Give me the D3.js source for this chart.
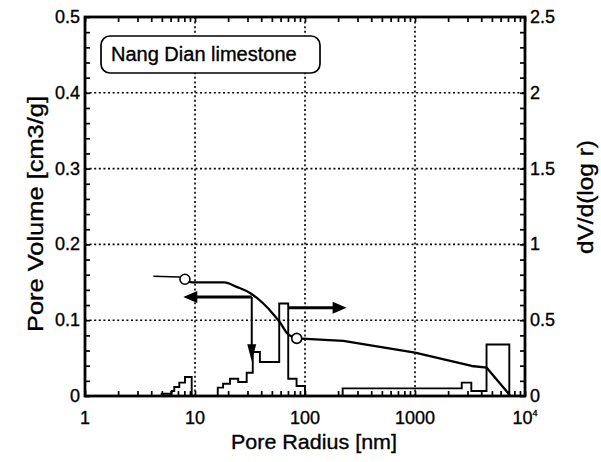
<!DOCTYPE html>
<html><head><meta charset="utf-8">
<script src="https://cdn.jsdelivr.net/npm/d3@7"></script>
<style>
body{margin:0;background:#fff}
text{font-family:"Liberation Sans",Arial,Helvetica,sans-serif;fill:#000;stroke:#000;stroke-width:0.35px}
text.narrow{font-family:"Liberation Sans Narrow","Arial Narrow","Liberation Sans",sans-serif}
</style>
</head><body>
<svg id="chart" width="601" height="462"></svg>
<script>
// Pore size distribution of Nang Dian limestone (mercury porosimetry)
const radiusTicks = [1, 10, 100, 1000, 10000];
const radiusLabels = ["1", "10", "100", "1000", "10"];
const volumeTicks = [0, 0.1, 0.2, 0.3, 0.4, 0.5];
const volumeLabels = ["0", "0.1", "0.2", "0.3", "0.4", "0.5"];
const densityTicks = [0, 0.5, 1, 1.5, 2, 2.5];
const densityLabels = ["0", "0.5", "1", "1.5", "2", "2.5"];

// histogram: bin edges [nm] and dV/d(log r) of each bin
const binEdges = [4.98, 6.14, 6.48, 7.2, 8.11, 9.33, 16.1, 18.0, 20.8, 24.7, 29.5, 33.5, 38.9, 58.3, 70.4, 83.8, 100, 220, 2660, 3250, 4470, 7200];
const binValues = [0.015, 0.033, 0.059, 0.088, 0.125, 0, 0.055, 0.081, 0.114, 0.092, 0.153, 0.29, 0.224, 0.61, 0.114, 0.066, 0, 0.05, 0.088, 0.033, 0.34];

// cumulative pore volume [cm3/g] against radius [nm]
const cumRadius = [4.18, 7.2, 8.1, 9.4, 18.5, 23.9, 31.6, 41.8, 51.5, 59.3, 68.1, 84.1, 223, 1000, 3276, 4487, 7300];
const cumVolume = [0.158, 0.157, 0.154, 0.150, 0.150, 0.144, 0.136, 0.122, 0.108, 0.097, 0.0835, 0.076, 0.0726, 0.0571, 0.0396, 0.0373, 0.001];

// open circles marking the two curve points used by the arrows
const markerRadius = [8.1, 84.1];
const markerVolume = [0.154, 0.076];

// arrows: curve -> left axis, curve -> histogram, histogram -> right axis
const leftArrow = {r0: 32.8, r1: 7.83, v: 0.1306};
const downArrow = {r: 32.8, v0: 0.1306, d1: 0.23};
const rightArrow = {r0: 70.4, r1: 239, v: 0.1165};

const legendText = "Nang Dian limestone";

const svg = d3.select("#chart");
const L = 85, R = 525, T = 17, B = 396;

const x = d3.scaleLog().domain([1, 10000]).range([L, R]);
const yV = d3.scaleLinear().domain([0, 0.5]).range([B, T]);
const yD = d3.scaleLinear().domain([0, 2.5]).range([B, T]);

// dotted grid
const grid = svg.append("g").attr("stroke", "#000").attr("stroke-width", 1.6)
  .attr("stroke-dasharray", "2,2.6").attr("fill", "none");
grid.selectAll("line.gx").data(radiusTicks.slice(1, -1)).join("line")
  .attr("x1", d => x(d)).attr("x2", d => x(d)).attr("y1", T).attr("y2", B);
grid.selectAll("line.gy").data(volumeTicks.slice(1, -1)).join("line")
  .attr("x1", L).attr("x2", R).attr("y1", d => yV(d)).attr("y2", d => yV(d));

// histogram outline as a step line
const histPts = [[binEdges[0], 0]];
binValues.forEach((v, i) => {
  histPts.push([binEdges[i], v]);
  histPts.push([binEdges[i + 1], v]);
});
histPts.push([binEdges[binEdges.length - 1], 0]);
svg.append("path")
  .attr("d", d3.line().x(d => x(d[0])).y(d => yD(d[1]))(histPts))
  .attr("fill", "none").attr("stroke", "#000").attr("stroke-width", 1.9)
  .attr("stroke-linejoin", "miter");

// cumulative curve: thin lead-in, smooth knee, straight tail
const cum = cumRadius.map((r, i) => [r, cumVolume[i]]);
const knee = cumRadius.indexOf(84.1);
const cumLine = d3.line().x(d => x(d[0])).y(d => yV(d[1]));
const cumSmooth = d3.line().x(d => x(d[0])).y(d => yV(d[1])).curve(d3.curveMonotoneX);
svg.append("path").attr("d", cumLine(cum.slice(0, 3)))
  .attr("fill", "none").attr("stroke", "#000").attr("stroke-width", 1.4);
svg.append("path").attr("d", cumSmooth(cum.slice(2, knee + 1)))
  .attr("fill", "none").attr("stroke", "#000").attr("stroke-width", 2.3);
svg.append("path").attr("d", cumLine(cum.slice(knee)))
  .attr("fill", "none").attr("stroke", "#000").attr("stroke-width", 2.3)
  .attr("stroke-linejoin", "round");

svg.selectAll("circle.mk").data(markerRadius).join("circle")
  .attr("cx", d => x(d)).attr("cy", (d, i) => yV(markerVolume[i])).attr("r", 5)
  .attr("fill", "#fff").attr("stroke", "#000").attr("stroke-width", 1.6);

// arrows
function arrowHead(tx, ty, dir, len, half) {
  // dir: unit vector pointing to the tip
  const bx = tx - dir[0] * len, by = ty - dir[1] * len;
  const px = -dir[1] * half, py = dir[0] * half;
  svg.append("path")
    .attr("d", `M${tx},${ty}L${bx + px},${by + py}L${bx - px},${by - py}Z`)
    .attr("fill", "#000");
}
const ay = yV(leftArrow.v);
svg.append("line").attr("x1", x(leftArrow.r0)).attr("x2", x(leftArrow.r1) + 8)
  .attr("y1", ay).attr("y2", ay).attr("stroke", "#000").attr("stroke-width", 3);
arrowHead(x(leftArrow.r1), ay, [-1, 0], 14, 6);

const dy0 = yV(downArrow.v0), dy1 = yD(downArrow.d1);
svg.append("line").attr("x1", x(downArrow.r)).attr("x2", x(downArrow.r))
  .attr("y1", dy0).attr("y2", dy1 - 8).attr("stroke", "#000").attr("stroke-width", 2);
arrowHead(x(downArrow.r), dy1, [0, 1], 17, 4.5);

const ry = yV(rightArrow.v);
svg.append("line").attr("x1", x(rightArrow.r0)).attr("x2", x(rightArrow.r1) - 8)
  .attr("y1", ry).attr("y2", ry).attr("stroke", "#000").attr("stroke-width", 3);
arrowHead(x(rightArrow.r1), ry, [1, 0], 14, 6);

// axes with inward ticks
const minorX = [];
for (let d = 0; d < 4; d++) for (let k = 1; k <= 9; k++) minorX.push(k * Math.pow(10, d));
minorX.push(10000);
const minorV = d3.range(0, 0.5001, 0.02);

const axB = svg.append("g").attr("transform", `translate(0,${B})`)
  .call(d3.axisBottom(x).tickValues(minorX).tickSize(-5).tickFormat(""));
const axT = svg.append("g").attr("transform", `translate(0,${T})`)
  .call(d3.axisTop(x).tickValues(minorX).tickSize(-5).tickFormat(""));
const axL = svg.append("g").attr("transform", `translate(${L},0)`)
  .call(d3.axisLeft(yV).tickValues(minorV).tickSize(-5).tickFormat(""));
const axR = svg.append("g").attr("transform", `translate(${R},0)`)
  .call(d3.axisRight(yV).tickValues(minorV).tickSize(-5).tickFormat(""));
[axB, axT, axL, axR].forEach(g => {
  g.select(".domain").remove();
  g.selectAll(".tick line").attr("stroke", "#000").attr("stroke-width", 1.7);
});

svg.append("rect").attr("x", L).attr("y", T).attr("width", R - L).attr("height", B - T)
  .attr("fill", "none").attr("stroke", "#000").attr("stroke-width", 2.8);

// tick labels
const fs = 18;
svg.selectAll("text.yl").data(volumeTicks).join("text").attr("class", "narrow")
  .attr("x", L - 5).attr("y", d => yV(d) + 6).attr("text-anchor", "end")
  .attr("font-size", fs).text((d, i) => volumeLabels[i]);
svg.selectAll("text.yr").data(densityTicks).join("text").attr("class", "narrow")
  .attr("x", R + 5).attr("y", d => yD(d) + 6).attr("text-anchor", "start")
  .attr("font-size", fs).text((d, i) => densityLabels[i]);
const xl = svg.selectAll("text.xl").data(radiusTicks).join("text").attr("class", "narrow")
  .attr("x", d => x(d)).attr("y", B + 28).attr("text-anchor", "middle")
  .attr("font-size", fs).text((d, i) => radiusLabels[i]);
xl.filter(d => d === 10000).append("tspan").attr("dy", -8).attr("font-size", 9).text("4");

// axis titles
svg.append("text").attr("x", 314).attr("y", 449).attr("text-anchor", "middle")
  .attr("font-size", 21).attr("textLength", 166).attr("lengthAdjust", "spacingAndGlyphs")
  .text("Pore Radius [nm]");
svg.append("text").attr("transform", "translate(43,214) rotate(-90)")
  .attr("text-anchor", "middle").attr("font-size", 22)
  .attr("textLength", 236).attr("lengthAdjust", "spacingAndGlyphs")
  .text("Pore Volume [cm3/g]");
svg.append("text").attr("transform", "translate(593,197) rotate(-90)")
  .attr("text-anchor", "middle").attr("font-size", 22)
  .attr("textLength", 114).attr("lengthAdjust", "spacingAndGlyphs")
  .text("dV/d(log r)");

// label box
svg.append("rect").attr("x", 101).attr("y", 36).attr("width", 219).attr("height", 37)
  .attr("rx", 9).attr("fill", "#fff").attr("stroke", "#000").attr("stroke-width", 1.7);
svg.append("text").attr("class", "narrow").attr("x", 111).attr("y", 61)
  .attr("font-size", 20).text(legendText);
</script>
</body></html>
